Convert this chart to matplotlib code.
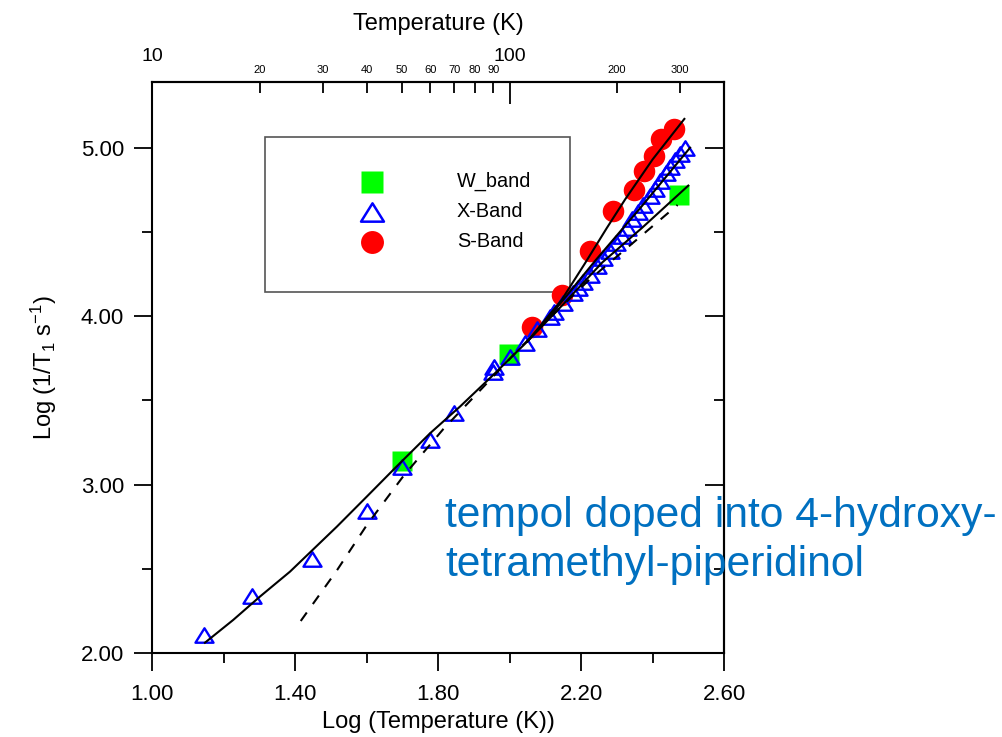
import numpy as np
import matplotlib
matplotlib.use("Agg")
import matplotlib.pyplot as plt
from matplotlib.patches import Rectangle
from matplotlib.path import Path

plt.rcParams['font.family'] = ['Liberation Sans', 'DejaVu Sans']
plt.rcParams['mathtext.default'] = 'regular'

# data: log10(T / K) vs log10(1/T1 / s^-1)
w_x = [1.699, 1.999, 2.475]
w_y = [3.141, 3.777, 4.721]

x_x = [1.145, 1.280, 1.448, 1.601, 1.699, 1.778, 1.845, 1.954, 1.957, 2.001,
       2.043, 2.077, 2.113, 2.124, 2.150, 2.178, 2.192, 2.206, 2.225, 2.245,
       2.262, 2.281, 2.298, 2.315, 2.329, 2.343, 2.359, 2.373, 2.393, 2.407,
       2.421, 2.438, 2.449, 2.463, 2.477, 2.491]
x_y = [2.107, 2.339, 2.559, 2.844, 3.105, 3.266, 3.426, 3.670, 3.699, 3.759,
       3.842, 3.925, 3.996, 4.026, 4.080, 4.139, 4.169, 4.204, 4.246, 4.300,
       4.347, 4.389, 4.436, 4.478, 4.525, 4.579, 4.620, 4.662, 4.715, 4.757,
       4.805, 4.852, 4.888, 4.929, 4.965, 5.001]

s_x = [2.064, 2.147, 2.225, 2.289, 2.347, 2.376, 2.404, 2.425, 2.459]
s_y = [3.937, 4.127, 4.389, 4.626, 4.751, 4.864, 4.953, 5.054, 5.111]

# fitted curves (common low-T part, then one branch per frequency)
fit_x = [1.148, 1.227, 1.302, 1.386, 1.517, 1.601, 1.684, 1.778, 1.862, 1.955, 2.050]
fit_y = [2.061, 2.196, 2.335, 2.483, 2.750, 2.929, 3.107, 3.305, 3.464, 3.652, 3.850]
fit_s_x = [2.050, 2.146, 2.210, 2.272, 2.323, 2.400, 2.489]
fit_s_y = [3.850, 4.097, 4.310, 4.523, 4.692, 4.930, 5.171]
fit_x_x = [2.050, 2.113, 2.240, 2.365, 2.505]
fit_x_y = [3.850, 4.000, 4.330, 4.640, 5.000]
fit_w_x = [2.050, 2.150, 2.260, 2.370, 2.500]
fit_w_y = [3.850, 4.070, 4.320, 4.523, 4.775]

dash_x = [1.416, 1.517, 1.601, 1.703, 1.815, 1.927, 2.020, 2.113, 2.220, 2.337, 2.420, 2.470]
dash_y = [2.190, 2.490, 2.760, 3.050, 3.330, 3.580, 3.790, 3.990, 4.210, 4.420, 4.570, 4.660]

x_major = [1.0, 1.4, 1.8, 2.2, 2.6]
x_minor = [1.2, 1.6, 2.0, 2.4]
y_major = [2, 3, 4, 5]
y_minor = [2.5, 3.5, 4.5]
top_major_T = [10, 100]
top_minor_T = [20, 30, 40, 50, 60, 70, 80, 90, 200, 300]

# open triangle, a bit flatter than matplotlib's '^'
tri = Path([(0, 0.8), (-1, -0.8), (1, -0.8), (0, 0.8)], closed=True)

fig = plt.figure(figsize=(10.02, 7.37), dpi=100)
ax = fig.add_axes([0.1517, 0.114, 0.5709, 0.7747])

ax.plot(w_x, w_y, 's', color='#00ff00', ms=15, mec='none', zorder=3)
ax.plot(s_x, s_y, 'o', color='red', ms=15.5, mec='none', zorder=4)
ax.plot(x_x, x_y, marker=tri, ls='none', mfc='none', mec='blue', ms=13, mew=1.7, zorder=5)

for fx, fy in [(fit_x, fit_y), (fit_s_x, fit_s_y), (fit_x_x, fit_x_y), (fit_w_x, fit_w_y)]:
    ax.plot(fx, fy, '-', color='black', lw=1.5, zorder=6)
ax.plot(dash_x, dash_y, color='black', lw=1.5, dashes=(5, 5), zorder=6)

ax.set_xlim(1.0, 2.6)
ax.set_ylim(2.0, 5.39)
ax.set_xticks(x_major)
ax.set_xticklabels(['%.2f' % v for v in x_major])
ax.set_xticks(x_minor, minor=True)
ax.set_yticks(y_major)
ax.set_yticklabels(['%.2f' % v for v in y_major])
ax.set_yticks(y_minor, minor=True)
ax.tick_params(which='major', direction='out', length=13, width=1.3, labelsize=16, pad=7)
ax.tick_params(which='minor', direction='out', length=7, width=1.3)
ax.tick_params(axis='x', pad=9)
for sp in ax.spines.values():
    sp.set_linewidth(1.5)

ax.set_xlabel('Log (Temperature (K))', fontsize=17, labelpad=5)
ax.set_ylabel('Log (1/T$_1$ s$^{-1}$)', fontsize=17, labelpad=16)

# right axis: inward ticks, no labels
rax = ax.secondary_yaxis('right')
rax.set_yticks(y_major)
rax.set_yticks(y_minor, minor=True)
rax.tick_params(which='major', direction='in', length=14, width=1.3, labelright=False)
rax.tick_params(which='minor', direction='in', length=7, width=1.3)
rax.spines['right'].set_linewidth(1.5)

# top axis: temperature in K
tax = ax.secondary_xaxis('top')
tax.set_xticks(np.log10(top_major_T))
tax.set_xticklabels([str(t) for t in top_major_T])
tax.set_xticks(np.log10(top_minor_T), minor=True)
tax.set_xticklabels([str(t) for t in top_minor_T], minor=True)
tax.tick_params(which='major', direction='in', length=16, width=1.3, labelsize=14, pad=12.5)
tax.tick_params(which='minor', direction='in', length=8, width=1.3, labelsize=8, pad=5)
tax.spines['top'].set_linewidth(1.5)
tax.set_xlabel('Temperature (K)', fontsize=17, labelpad=13)

# legend box
ax.add_patch(Rectangle((0.1976, 0.632), 0.5332, 0.2717, transform=ax.transAxes,
                       fill=False, edgecolor='#555555', lw=1.2, zorder=2))
leg_names = ['W_band', 'X-Band', 'S-Band']
leg_y = [0.8254, 0.7729, 0.7203]
ax.plot(0.3846, leg_y[0], 's', color='#00ff00', ms=16.5, mec='none', transform=ax.transAxes)
ax.plot(0.3846, leg_y[1], marker=tri, mfc='none', mec='blue', ms=16.5, mew=1.8, transform=ax.transAxes)
ax.plot(0.3846, leg_y[2], 'o', color='red', ms=16.5, mec='none', transform=ax.transAxes)
for name, yy in zip(leg_names, leg_y):
    ax.text(0.5332, yy, name, transform=ax.transAxes, fontsize=14.3, va='center', ha='left')

fig.text(0.4441, 0.327, 'tempol doped into 4-hydroxy-\ntetramethyl-piperidinol',
         color='#0070c0', fontsize=30.7, va='top', ha='left', linespacing=1.28)

fig.savefig('out.png', dpi=100)
